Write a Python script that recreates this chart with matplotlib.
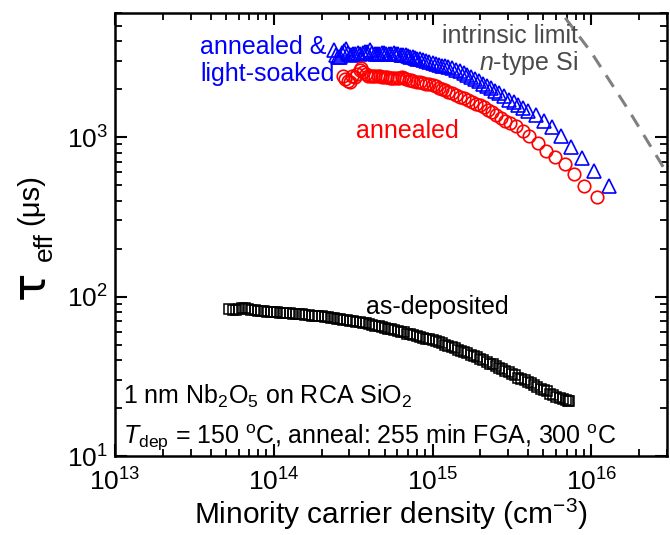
import matplotlib
matplotlib.use("Agg")
import matplotlib.pyplot as plt
from matplotlib.ticker import LogLocator, NullFormatter

plt.rcParams['font.family'] = ['Liberation Sans', 'DejaVu Sans']
plt.rcParams['mathtext.fontset'] = 'custom'
plt.rcParams['mathtext.rm'] = 'Liberation Sans'
plt.rcParams['mathtext.it'] = 'Liberation Sans:italic'
plt.rcParams['mathtext.bf'] = 'Liberation Sans:bold'

# as-deposited (black squares)
dep_n = [5.25e13, 5.50e13, 5.75e13, 6.03e13, 6.31e13, 6.61e13, 6.92e13, 7.24e13, 7.59e13, 7.94e13,
         8.32e13, 8.71e13, 9.12e13, 9.55e13, 1.00e14, 1.05e14, 1.10e14, 1.15e14, 1.20e14, 1.26e14,
         1.32e14, 1.38e14, 1.45e14, 1.51e14, 1.58e14, 1.66e14, 1.74e14, 1.82e14, 1.91e14, 2.00e14,
         2.09e14, 2.19e14, 2.29e14, 2.40e14, 2.51e14, 2.63e14, 2.75e14, 2.88e14, 3.02e14, 3.16e14,
         3.31e14, 3.47e14, 3.63e14, 3.80e14, 3.98e14, 4.17e14, 4.37e14, 4.57e14, 4.79e14, 5.01e14,
         5.25e14, 5.50e14, 5.75e14, 6.03e14, 6.31e14, 6.61e14, 6.92e14, 7.24e14, 7.59e14, 7.94e14,
         8.32e14, 8.71e14, 9.12e14, 9.55e14, 1.00e15, 1.05e15, 1.10e15, 1.15e15, 1.20e15, 1.26e15,
         1.32e15, 1.38e15, 1.45e15, 1.51e15, 1.58e15, 1.66e15, 1.74e15, 1.82e15, 1.91e15, 2.00e15,
         2.09e15, 2.19e15, 2.29e15, 2.40e15, 2.51e15, 2.63e15, 2.75e15, 2.88e15, 3.02e15, 3.16e15,
         3.31e15, 3.47e15, 3.63e15, 3.80e15, 3.98e15, 4.17e15, 4.37e15, 4.57e15, 4.79e15, 5.01e15,
         5.25e15, 5.50e15, 5.75e15, 6.03e15, 6.31e15, 6.61e15, 6.92e15, 7.10e15, 7.20e15]
dep_tau = [83, 82, 82, 84, 85, 85, 83, 82.5, 82, 81.5,
           81, 81, 80.5, 80, 80, 79.5, 79, 79, 78.5, 78.5,
           78, 78, 77.5, 77.5, 77, 76.5, 76, 75.5, 75.5, 75,
           74.5, 74, 73.5, 73, 72.5, 72, 71.5, 71, 70.5, 70,
           69.5, 69, 68.5, 68, 67, 66.5, 65.5, 65, 64.5, 63.5,
           63, 62.5, 61.5, 61, 60, 59.5, 58.5, 58, 57, 56.5,
           56, 55, 54.5, 54, 53.5, 52.5, 51.5, 51, 50, 49,
           48.5, 47.5, 46.5, 45.5, 45, 44, 43, 42.5, 41.5, 40.5,
           40, 39, 38, 37.5, 36.5, 35.5, 35, 34, 33.5, 32.5,
           32, 31, 30.5, 30, 29, 28.5, 28, 27, 26.5, 26,
           25.5, 24.5, 24, 23.5, 23, 22.7, 22.4, 22.2, 22.0]

# annealed (red circles)
ann_n = [2.73e14, 2.82e14, 2.92e14, 3.02e14, 3.13e14, 3.24e14, 3.35e14, 3.47e14, 3.56e14,
         3.67e14, 3.80e14, 3.94e14, 4.07e14, 4.22e14, 4.37e14, 4.52e14, 4.68e14, 4.84e14,
         5.01e14, 5.19e14, 5.37e14, 5.56e14, 5.75e14, 5.96e14, 6.17e14, 6.38e14, 6.61e14,
         6.84e14, 7.08e14, 7.33e14, 7.59e14, 7.94e14, 8.32e14, 8.71e14, 9.12e14, 9.55e14,
         1.00e15, 1.05e15, 1.10e15, 1.15e15, 1.20e15, 1.26e15, 1.33e15, 1.41e15, 1.50e15,
         1.58e15, 1.68e15, 1.78e15, 1.88e15, 2.00e15, 2.11e15, 2.24e15, 2.37e15, 2.51e15,
         2.69e15, 2.88e15, 3.09e15, 3.36e15, 3.70e15, 4.07e15, 4.61e15, 5.21e15, 5.94e15,
         6.81e15, 7.82e15, 9.04e15, 1.08e16]
ann_tau = [2430, 2330, 2250, 2230, 2420, 2380, 2500, 2620, 2700,
           2560, 2470, 2430, 2410, 2400, 2420, 2430, 2420, 2390,
           2375, 2365, 2350, 2345, 2335, 2340, 2360, 2380, 2350,
           2315, 2290, 2270, 2250, 2225, 2200, 2175, 2160, 2145,
           2110, 2080, 2040, 2010, 1975, 1930, 1885, 1835, 1790,
           1750, 1705, 1660, 1615, 1580, 1540, 1485, 1430, 1375,
           1320, 1265, 1225, 1178, 1096, 1019, 916, 820, 755,
           676, 585, 494, 418]

# annealed & light-soaked (blue triangles)
ls_n = [2.38e14, 2.45e14, 2.54e14, 2.60e14, 2.69e14, 2.79e14, 2.86e14, 2.95e14, 3.05e14,
        3.16e14, 3.27e14, 3.39e14, 3.51e14, 3.63e14, 3.76e14, 3.89e14, 4.02e14, 4.17e14,
        4.32e14, 4.47e14, 4.62e14, 4.79e14, 4.95e14, 5.13e14, 5.31e14, 5.50e14, 5.69e14,
        5.89e14, 6.10e14, 6.31e14, 6.53e14, 6.76e14, 7.00e14, 7.24e14, 7.52e14, 7.76e14,
        8.04e14, 8.32e14, 8.71e14, 9.12e14, 9.55e14, 1.00e15, 1.05e15, 1.10e15, 1.15e15,
        1.20e15, 1.26e15, 1.32e15, 1.40e15, 1.48e15, 1.57e15, 1.66e15, 1.76e15, 1.86e15,
        1.97e15, 2.09e15, 2.21e15, 2.34e15, 2.48e15, 2.63e15, 2.82e15, 3.02e15, 3.24e15,
        3.47e15, 3.72e15, 3.98e15, 4.47e15, 5.01e15, 5.66e15, 6.43e15, 7.45e15, 8.71e15,
        1.04e16, 1.29e16]
ls_tau = [3540, 3250, 3200, 3170, 3380, 3450, 3560, 3380, 3250,
          3300, 3330, 3360, 3300, 3370, 3420, 3400, 3500, 3350,
          3320, 3300, 3340, 3380, 3350, 3320, 3300, 3330, 3360,
          3330, 3310, 3290, 3270, 3250, 3220, 3200, 3170, 3130,
          3110, 3080, 3040, 3000, 2960, 2920, 2880, 2850, 2810,
          2780, 2740, 2700, 2640, 2580, 2520, 2450, 2380, 2310,
          2240, 2160, 2090, 2020, 1950, 1880, 1800, 1720, 1650,
          1580, 1520, 1466, 1370, 1268, 1151, 1009, 869, 735,
          614, 490]

# intrinsic limit, n-type Si (grey dashed)
intr_n = [5.0e15, 6.5e15, 1.0e16, 1.73e16, 3.0e16, 4.0e16]
intr_tau = [8500, 6000, 3400, 1460, 594, 370]

fig = plt.figure(figsize=(6.7, 5.35), dpi=100)
ax = fig.add_axes([115/670, 1-456/535, 552/670, 443/535])

ax.plot(intr_n, intr_tau, color='#808080', lw=2.2, dashes=(4.5, 3.2))
ax.plot(dep_n, dep_tau, ls='none', marker='s', ms=6.5, mfc='none', mec='black', mew=1.1)
ax.plot(ls_n, ls_tau, ls='none', marker='^', ms=10, mfc='none', mec='blue', mew=1.2)
ax.plot(ann_n, ann_tau, ls='none', marker='o', ms=9, mfc='none', mec='red', mew=1.2)

ax.set_xscale('log')
ax.set_yscale('log')
ax.set_xlim(1e13, 3e16)
ax.set_ylim(10, 6000)

ax.xaxis.set_minor_locator(LogLocator(base=10, subs=range(2, 10)))
ax.yaxis.set_minor_locator(LogLocator(base=10, subs=range(2, 10)))
ax.xaxis.set_minor_formatter(NullFormatter())
ax.yaxis.set_minor_formatter(NullFormatter())
ax.tick_params(which='both', direction='in', top=True, right=True, labelsize=19)
ax.tick_params(which='major', length=8.5, width=1.5)
ax.tick_params(which='minor', length=5, width=1.3)
ax.tick_params(axis='x', which='major', pad=9)
ax.tick_params(axis='y', which='major', pad=5)
for s in ax.spines.values():
    s.set_linewidth(1.8)

ax.set_xlabel('Minority carrier density (cm$^{-3}$)', fontsize=21.5, labelpad=0.5)

# y label built from pieces: big tau, subscript, unit
fig.text(31/670, 1-285/535, 'τ', fontsize=34, rotation=90, ha='center', va='center',
         family='DejaVu Sans')
fig.text(45/670, 1-247/535, 'eff', fontsize=19, rotation=90, ha='center', va='center')
fig.text(30/670, 1-200/535, '(μs)', fontsize=21, rotation=90, ha='center', va='center')

ax.text(0.154, 0.95, 'annealed &\nlight-soaked', color='blue', fontsize=18,
        transform=ax.transAxes, ha='left', va='top', linespacing=1.15)
ax.text(0.437, 0.718, 'annealed', color='red', fontsize=18,
        transform=ax.transAxes, ha='left', va='baseline')
ax.text(0.839, 0.932, 'intrinsic limit', color='#4a4a4a', fontsize=18,
        transform=ax.transAxes, ha='right', va='baseline')
ax.text(0.839, 0.871, '$n$-type Si', color='#4a4a4a', fontsize=18,
        transform=ax.transAxes, ha='right', va='baseline')
ax.text(0.455, 0.32, 'as-deposited', color='black', fontsize=18,
        transform=ax.transAxes, ha='left', va='baseline')
ax.text(0.0145, 0.117, '1 nm Nb$_2$O$_5$ on RCA SiO$_2$', fontsize=18,
        transform=ax.transAxes, ha='left', va='baseline')
ax.text(0.0145, 0.027, '$T_{\\rm dep}$ = 150 $^{\\rm o}$C, anneal: 255 min FGA, 300 $^{\\rm o}$C',
        fontsize=18, transform=ax.transAxes, ha='left', va='baseline')

fig.savefig('out.png', dpi=100)
